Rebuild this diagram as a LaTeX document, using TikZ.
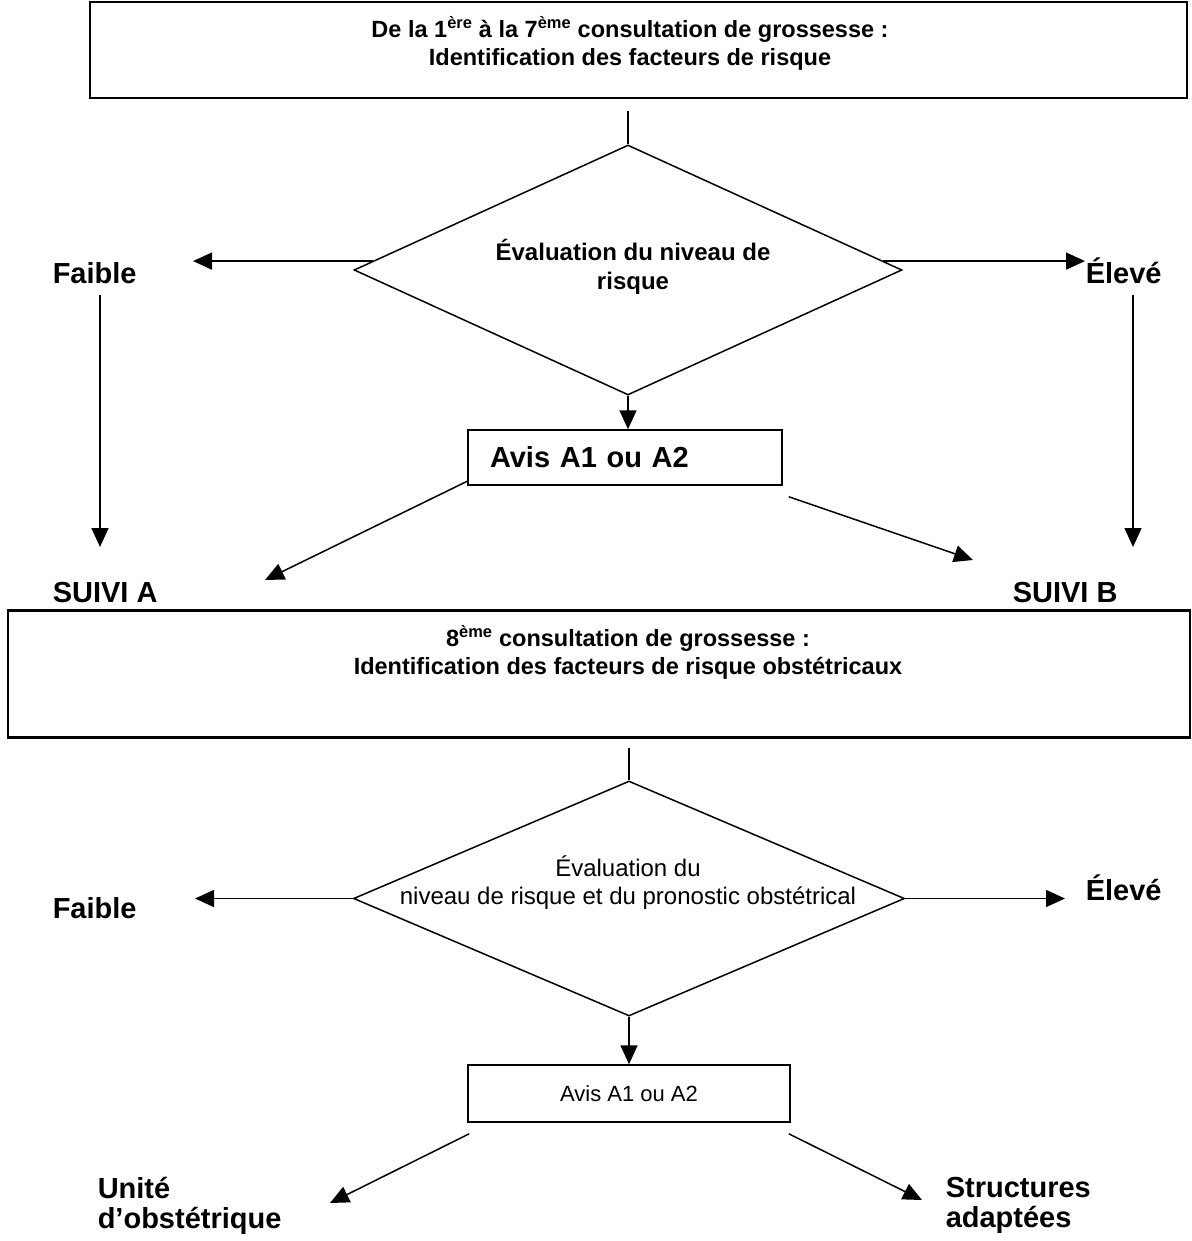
\documentclass[tikz,border=0pt]{standalone}
\usepackage{fontspec}
\setmainfont{Liberation Sans}
\usetikzlibrary{arrows.meta,shapes.geometric,calc}
\begin{document}
\begin{tikzpicture}[x=1pt,y=-1pt,line width=1.5pt,
  arr/.style={-{Triangle[length=19pt,width=17pt]}},
  frame/.style={draw,line width=2.4pt,rectangle,inner sep=0pt},
  dia/.style={draw,diamond,inner sep=0pt,line width=1.5pt},
  lbl/.style={inner sep=0pt,font=\fontsize{29}{30}\selectfont\bfseries},
  lbltwo/.style={inner sep=0pt,align=left,font=\fontsize{29}{30}\selectfont\bfseries},
  boxtext/.style={inner sep=0pt,align=center,font={\bfseries\fontsize{23.5}{28}\selectfont}},
  diatextb/.style={inner sep=0pt,align=center,font=\fontsize{24}{29}\selectfont\bfseries},
  diatext/.style={inner sep=0pt,align=center,font=\fontsize{24}{28}\selectfont},
]
\useasboundingbox (0,0) rectangle (1191,1241);

% ---------- first part ----------
\node[frame,minimum width=1097pt,minimum height=96pt] (box1) at (638.5,50) {};
\node[boxtext] (t1) at (630,43) {De la 1\textsuperscript{ère} à la 7\textsuperscript{ème} consultation de grossesse :\\Identification des facteurs de risque};
\node[dia,minimum width=548pt,minimum height=250pt] (d1) at (628,270) {};
\coordinate (c1) at ($(d1.north)+(0,-33)$);
\node[diatextb] (d1t) at (633,267) {Évaluation du niveau de\\risque};
\draw (c1) -- (d1.north);

\node[lbl,anchor=base west] (f1) at (52,283) {Faible};
\node[lbl,anchor=base west] (e1) at (1085,283) {Élevé};
\coordinate (f1tip) at (193,263);
\draw[arr] (d1.178) -- (d1.178 -| f1tip);
\draw[arr] (d1.2) -- (d1.2 -| e1.west);

\node[draw,line width=1.5pt,minimum height=55pt,text width=270pt,inner xsep=22pt,inner ysep=0pt,align=left,font=\fontsize{29}{30}\selectfont\bfseries] (a1) at (625,457.5) {Avis A1 ou A2};
\draw[arr] (d1.south) -- (d1.south |- a1.north);

\node[lbl,anchor=base west] (sA) at (52,602) {SUIVI A};
\node[lbl,anchor=base west] (sB) at (1012,602) {SUIVI B};
\coordinate (f1a) at (100,295);
\coordinate (f1b) at (100,547);
\draw[arr] (f1a) -- (f1b);
\coordinate (e1a) at (1133,295);
\coordinate (e1b) at (1133,547);
\draw[arr] (e1a) -- (e1b);
\coordinate (sAtip) at (265,580);
\coordinate (sBtip) at (973,560);
\draw[arr] ([shift={(1,-5)}]a1.south west) -- (sAtip);
\draw[arr] ([shift={(6,11)}]a1.south east) -- (sBtip);

% ---------- second part ----------
\node[frame,minimum width=1182pt,minimum height=127pt] (box2) at (599,674) {};
\node[boxtext] (t2) at (628,652) {8\textsuperscript{ème} consultation de grossesse :\\Identification des facteurs de risque obstétricaux};
\node[dia,minimum width=551pt,minimum height=235pt] (d2) at (629,898.5) {};
\coordinate (c2) at ($(d2.north)+(0,-32)$);
\node[diatext] (d2t) at (628,883) {Évaluation du\\niveau de risque et du pronostic obstétrical};
\draw (c2) -- (d2.north);

\node[lbl,anchor=base west] (f2) at (52,918) {Faible};
\node[lbl,anchor=base west] (e2) at (1085,900) {Élevé};
\coordinate (f2tip) at (195,898);
\coordinate (e2tip) at (1065,898);
\draw[arr] (d2.west) -- (d2.west -| f2tip);
\draw[arr] (d2.east) -- (d2.east -| e2tip);

\node[draw,line width=1.5pt,minimum width=322pt,minimum height=57pt,inner sep=0pt,font=\fontsize{22}{26}\selectfont] (a2) at (629,1093.5) {Avis A1 ou A2};
\draw[arr] (d2.south) -- (d2.south |- a2.north);

\node[lbltwo,anchor=west] (u) at (97,1206) {Unité\\d’obstétrique};
\node[lbltwo,anchor=west] (s) at (945,1205) {Structures\\adaptées};
\coordinate (utip) at (330,1203);
\coordinate (stip) at (922,1200);
\draw[arr] ([shift={(2,11)}]a2.south west) -- (utip);
\draw[arr] ([shift={(-2,11)}]a2.south east) -- (stip);
\end{tikzpicture}
\end{document}
